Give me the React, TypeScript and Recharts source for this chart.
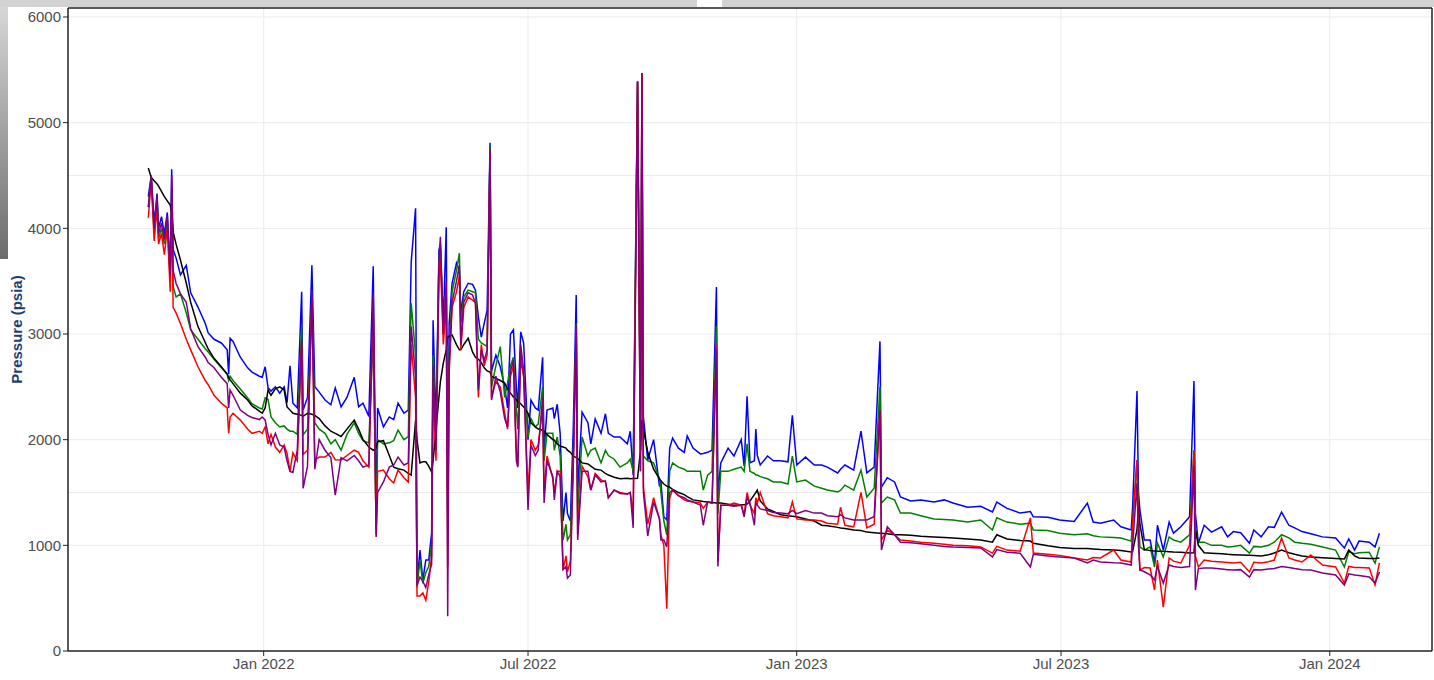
import { LineChart, Line, XAxis, YAxis, CartesianGrid, Label, ReferenceLine } from "recharts";

const dates = [
  "2021-10-14","2021-10-16","2021-10-18","2021-10-20","2021-10-21","2021-10-23","2021-10-25","2021-10-27","2021-10-29","2021-10-30",
  "2021-10-31","2021-11-02","2021-11-05","2021-11-09","2021-11-12","2021-11-17","2021-11-22","2021-11-24","2021-11-28","2021-12-03",
  "2021-12-07","2021-12-08","2021-12-09","2021-12-11","2021-12-16","2021-12-21","2021-12-24","2021-12-29","2021-12-31","2022-01-02",
  "2022-01-04","2022-01-06","2022-01-09","2022-01-12","2022-01-15","2022-01-17","2022-01-19","2022-01-21","2022-01-24","2022-01-27",
  "2022-01-28","2022-01-31","2022-02-03","2022-02-05","2022-02-08","2022-02-12","2022-02-16","2022-02-19","2022-02-23","2022-02-27",
  "2022-03-04","2022-03-07","2022-03-10","2022-03-14","2022-03-17","2022-03-19","2022-03-20","2022-03-24","2022-03-28","2022-03-31",
  "2022-04-03","2022-04-07","2022-04-10","2022-04-12","2022-04-15","2022-04-16","2022-04-18","2022-04-20","2022-04-22","2022-04-24",
  "2022-04-26","2022-04-27","2022-04-29","2022-05-01","2022-05-02","2022-05-04","2022-05-06","2022-05-07","2022-05-08","2022-05-10",
  "2022-05-13","2022-05-15","2022-05-16","2022-05-18","2022-05-21","2022-05-24","2022-05-26","2022-05-28","2022-05-30","2022-06-01",
  "2022-06-03","2022-06-05","2022-06-06","2022-06-09","2022-06-12","2022-06-15","2022-06-17","2022-06-19","2022-06-21","2022-06-23",
  "2022-06-24","2022-06-26","2022-06-28","2022-07-01","2022-07-03","2022-07-06","2022-07-08","2022-07-11","2022-07-12","2022-07-14",
  "2022-07-18","2022-07-19","2022-07-21","2022-07-23","2022-07-25","2022-07-27","2022-07-28","2022-07-30","2022-08-01","2022-08-03",
  "2022-08-04","2022-08-07","2022-08-11","2022-08-13","2022-08-16","2022-08-20","2022-08-23","2022-08-25","2022-08-29","2022-09-02",
  "2022-09-07","2022-09-09","2022-09-11","2022-09-14","2022-09-16","2022-09-17","2022-09-18","2022-09-21","2022-09-25","2022-09-29",
  "2022-09-30","2022-10-02","2022-10-04","2022-10-06","2022-10-08","2022-10-12","2022-10-16","2022-10-18","2022-10-22","2022-10-27",
  "2022-10-29","2022-11-01","2022-11-04","2022-11-07","2022-11-08","2022-11-10","2022-11-15","2022-11-19","2022-11-24","2022-11-26",
  "2022-11-28","2022-11-30","2022-12-03","2022-12-04","2022-12-05","2022-12-07","2022-12-12","2022-12-16","2022-12-21","2022-12-26",
  "2022-12-29","2023-01-01","2023-01-07","2023-01-13","2023-01-18","2023-01-22","2023-01-29","2023-01-31","2023-02-03","2023-02-09",
  "2023-02-14","2023-02-18","2023-02-23","2023-02-27","2023-02-28","2023-03-04","2023-03-09","2023-03-13","2023-03-20","2023-03-27",
  "2023-04-05","2023-04-12","2023-04-18","2023-04-28","2023-05-07","2023-05-15","2023-05-18","2023-05-25","2023-06-03","2023-06-10",
  "2023-06-12","2023-06-22","2023-06-30","2023-07-10","2023-07-19","2023-07-23","2023-07-28","2023-08-06","2023-08-11","2023-08-18",
  "2023-08-19","2023-08-22","2023-08-23","2023-08-24","2023-08-27","2023-08-31","2023-09-03","2023-09-05","2023-09-09","2023-09-13",
  "2023-09-16","2023-09-21","2023-09-27","2023-09-30","2023-10-01","2023-10-03","2023-10-07","2023-10-12","2023-10-19","2023-10-23",
  "2023-10-27","2023-11-01","2023-11-07","2023-11-10","2023-11-15","2023-11-20","2023-11-24","2023-11-29","2023-12-04","2023-12-08",
  "2023-12-13","2023-12-19","2023-12-27","2024-01-05","2024-01-11","2024-01-14","2024-01-18","2024-01-21","2024-01-28","2024-02-01",
  "2024-02-04",
];

const blue = [
  4300,4500,4050,4330,4000,4110,3950,4150,3600,4560,
  3800,3720,3560,3650,3390,3255,3100,3010,2950,2915,
  2850,2620,2960,2930,2780,2680,2640,2600,2590,2690,
  2490,2460,2500,2440,2500,2350,2700,2345,2300,3400,
  2280,2400,3650,2500,2450,2375,2330,2490,2310,2400,
  2590,2310,2345,2220,3640,1270,2300,2120,2215,2190,
  2345,2250,2280,3680,4190,640,955,670,860,860,
  1115,3130,2120,3795,3850,3100,4010,1500,3100,3480,
  3670,3600,3200,3400,3480,3470,3415,3160,2970,3100,
  3225,4810,2650,2800,2690,2500,2300,3000,3040,2500,
  2300,3020,2915,2000,2375,2300,2280,2780,1900,2280,
  2300,2200,2335,2060,1230,1500,1300,1230,2120,3370,
  1500,2260,2160,1960,2195,2060,2245,2060,2025,2025,
  1960,2080,1665,5390,2000,5470,2215,1807,2000,1560,
  1600,1270,1240,1920,2015,1920,1880,2035,1920,1865,
  1870,1880,1900,3445,1500,1780,1920,1845,2000,1750,
  2410,1780,1800,2100,1850,1760,1845,1800,1800,1790,
  2230,1760,1835,1760,1760,1740,1685,1720,1760,1712,
  2080,1685,1740,2930,1550,1640,1600,1457,1420,1430,
  1410,1430,1400,1360,1370,1315,1410,1350,1305,1320,
  1270,1265,1240,1225,1400,1220,1210,1240,1175,1145,
  1360,2460,1500,1334,1050,1050,830,1190,955,1220,
  1115,1175,1270,2555,1300,1020,1190,1125,1175,1080,
  1130,1120,1020,1145,1080,1175,1170,1315,1190,1165,
  1130,1110,1080,1070,975,1060,955,1040,1030,985,
  1115,
];

const green = [
  4200,4480,3950,4250,3900,4000,3850,4050,3500,4300,
  3450,3350,3380,3200,3040,2950,2860,2830,2760,2680,
  2620,2560,2600,2560,2480,2395,2340,2300,2290,2395,
  2380,2215,2160,2120,2130,2100,2080,2080,2050,3070,
  2045,2100,3300,2160,2100,2060,1960,2000,1900,2050,
  2160,2060,1990,1970,3000,1150,2000,1960,1970,1990,
  2090,2000,2030,3290,2800,600,860,640,740,800,
  1000,2800,2000,3700,3800,3000,3400,1200,2800,3400,
  3600,3765,3100,3350,3415,3400,3390,2950,2915,2900,
  2880,4780,2500,2700,2880,2400,2535,2700,2780,2300,
  2100,2750,2600,2025,2200,2120,2150,2500,1800,2060,
  2060,1900,2025,1845,1050,1200,1050,1100,1815,3100,
  1300,2025,1845,1900,1920,1780,1900,1850,1815,1740,
  1780,1815,1700,5390,1900,5470,1845,1800,1780,1630,
  1500,1230,1100,1700,1780,1740,1720,1700,1700,1700,
  1523,1665,1700,3075,1300,1700,1700,1720,1740,1700,
  1960,1700,1680,1665,1665,1650,1630,1600,1600,1580,
  1845,1600,1618,1560,1540,1523,1505,1520,1570,1523,
  1712,1457,1540,2500,1400,1457,1430,1305,1305,1280,
  1250,1245,1240,1220,1240,1145,1260,1220,1200,1210,
  1145,1140,1115,1100,1110,1090,1080,1075,1070,1040,
  1200,1807,1300,985,955,985,795,1020,890,1080,
  1050,1030,1100,1900,1150,1030,1030,1000,1000,985,
  990,1000,927,990,985,1000,1030,1100,1070,1030,
  1020,1010,985,955,795,940,920,930,935,830,
  985,
];

const black = [
  4570,4480,4450,4420,4400,4350,4300,4260,4220,4150,
  3965,3850,3700,3480,3300,3070,2920,2860,2770,2690,
  2620,2590,2565,2530,2440,2375,2320,2270,2250,2300,
  2470,2420,2480,2500,2470,2310,2280,2250,2240,2230,
  2220,2250,2240,2230,2200,2130,2080,2060,2030,2100,
  2185,2100,2000,1930,1900,1920,1980,1990,1850,1740,
  1725,1712,1680,1665,2185,2000,1780,1790,1790,1750,
  1695,1800,2100,2400,2550,2725,2850,2970,2980,2990,
  2900,2850,2850,2900,2960,2830,2780,2760,2730,2680,
  2650,2640,2600,2580,2560,2535,2480,2440,2405,2380,
  2360,2340,2310,2250,2160,2120,2100,2090,2080,2050,
  2000,1995,1960,1940,1930,1920,1900,1880,1845,1830,
  1820,1780,1770,1750,1720,1712,1680,1665,1645,1630,
  1635,1630,1632,1635,1900,2185,2100,1880,1720,1630,
  1610,1580,1560,1550,1530,1500,1480,1460,1430,1420,
  1415,1410,1405,1400,1400,1400,1390,1380,1385,1385,
  1390,1420,1480,1500,1523,1420,1345,1320,1290,1280,
  1275,1270,1250,1230,1190,1185,1170,1165,1160,1145,
  1140,1125,1120,1115,1115,1110,1100,1100,1095,1085,
  1080,1075,1070,1060,1050,1030,1100,1060,1045,1040,
  1020,995,980,970,970,965,960,955,950,937,
  940,1150,1360,1200,960,950,946,945,943,940,
  937,935,927,930,1145,1000,930,925,920,915,
  912,908,905,903,899,910,927,955,930,915,
  900,890,882,875,870,955,900,880,875,875,
  880,
];

const red = [
  4100,4450,3880,4200,3850,3950,3750,4000,3400,4200,
  3250,3200,3100,2950,2850,2690,2560,2520,2420,2345,
  2300,2060,2215,2250,2185,2100,2060,2080,2060,2120,
  1960,2050,1930,1880,1950,1870,1700,1875,1800,2900,
  1860,1900,3350,1807,1835,1835,1880,1810,1807,1850,
  1900,1880,1800,1740,3200,1100,1700,1712,1630,1590,
  1712,1640,1600,2900,2400,520,520,550,480,650,
  900,2500,1800,3500,3700,2900,3300,800,2630,3250,
  3400,3550,2850,3250,3350,3320,3300,2400,2900,2700,
  2800,4750,2400,2550,2500,2250,2100,2600,2700,1900,
  1750,2850,2600,1500,2000,1900,1950,2300,1500,1845,
  1630,1500,1700,1700,770,900,750,850,1780,3000,
  1100,1750,1650,1523,1680,1620,1600,1450,1523,1500,
  1485,1500,1300,5390,1700,5470,1550,1200,1450,1250,
  1100,1000,400,1450,1523,1470,1430,1420,1410,1400,
  1350,1410,1400,2900,850,1380,1380,1400,1380,1290,
  1500,1380,1300,1450,1400,1500,1300,1280,1270,1260,
  1410,1250,1240,1240,1230,1210,1200,1360,1190,1175,
  1500,1165,1200,2280,1050,1145,1100,1050,1040,1030,
  1020,1010,1000,995,985,927,990,955,945,1260,
  927,915,905,880,861,885,880,955,861,842,
  1220,1807,1100,766,790,785,577,861,416,880,
  850,833,1000,1900,900,795,861,850,842,838,
  833,840,748,840,833,845,861,1070,880,861,
  842,908,814,795,643,800,790,790,785,625,
  833,
];

const purple = [
  4200,4500,4000,4300,3950,4050,3900,4120,3550,4500,
  3600,3480,3380,3300,3050,2880,2780,2730,2680,2590,
  2530,2300,2470,2420,2280,2230,2210,2190,2215,2185,
  2050,1950,2060,1950,1930,1800,1700,1690,1900,2950,
  1540,1750,3415,1720,2000,1900,1830,1475,1830,1800,
  1850,1800,1740,1760,3390,1080,1500,1600,1740,1760,
  1835,1760,1780,3070,2600,620,700,660,600,720,
  820,2700,1900,3700,3920,3000,3500,330,2690,3300,
  3500,3650,2900,3300,3390,3370,3290,2470,2850,2750,
  2850,4750,2375,2600,2450,2200,2120,2650,2750,1800,
  1740,2900,2650,1334,1950,1850,1900,2400,1400,1800,
  1650,1430,1700,1650,770,800,690,720,1780,3085,
  1050,1700,1700,1523,1665,1600,1610,1450,1523,1490,
  1485,1500,1165,5390,1700,5470,1500,1090,1410,1250,
  1050,1050,985,1500,1523,1470,1450,1430,1410,1380,
  1190,1410,1400,2860,800,1380,1380,1370,1380,1270,
  1450,1400,1190,1400,1380,1345,1330,1310,1305,1300,
  1330,1300,1330,1305,1305,1280,1270,1290,1260,1240,
  1240,1240,1270,2280,955,1175,1100,1030,1025,1015,
  1000,990,985,980,975,890,960,935,925,795,
  915,900,890,880,833,860,842,835,833,814,
  1000,1590,1000,766,750,720,672,800,643,814,
  800,790,800,1750,577,780,785,785,775,770,
  766,770,700,770,766,775,780,800,790,780,
  770,766,738,720,625,730,720,715,700,643,
  748,
];

const xTickDates = ["2022-01-01", "2022-07-01", "2023-01-01", "2023-07-01", "2024-01-01"];
const yTicks = [0, 1000, 2000, 3000, 4000, 5000, 6000];
const gridValues = [1000, 1500, 2000, 3000, 4000, 4500, 5000, 6000];
const MONTHS = ["Jan", "Feb", "Mar", "Apr", "May", "Jun", "Jul", "Aug", "Sep", "Oct", "Nov", "Dec"];

const toTime = (d: string) => Date.parse(d + "T00:00:00Z");

const data = dates.map((d, i) => ({
  t: toTime(d),
  blue: blue[i],
  green: green[i],
  black: black[i],
  red: red[i],
  purple: purple[i],
}));

const xDomain = [toTime("2021-08-20"), toTime("2024-03-11")];
const yMax = 6085;
const FONT = "'Liberation Sans', Arial, sans-serif";

const fmtDate = (t: number) => {
  const d = new Date(t);
  return `${MONTHS[d.getUTCMonth()]} ${d.getUTCFullYear()}`;
};

const YTitle = ({ viewBox }: any) => {
  const cy = viewBox.y + viewBox.height / 2;
  return (
    <text
      x={16}
      y={cy}
      transform={`rotate(-90 16 ${cy})`}
      textAnchor="middle"
      dominantBaseline="central"
      fill="#1d3f6e"
      fontWeight="bold"
      fontSize={15}
      fontFamily={FONT}
    >
      Pressure (psia)
    </text>
  );
};

const series = [
  { key: "blue", color: "#0000ff" },
  { key: "green", color: "#008000" },
  { key: "black", color: "#000000" },
  { key: "red", color: "#ff0000" },
  { key: "purple", color: "#800080" },
];

export default function App() {
  return (
    <div style={{ position: "absolute", left: 0, top: 0, width: 1434, height: 680, background: "#fff" }}>
      <LineChart
        width={1434}
        height={680}
        data={data}
        margin={{ top: 8, right: 2, bottom: 0, left: 0 }}
      >
        <CartesianGrid
          stroke="#ebebeb"
          horizontalValues={gridValues}
          verticalValues={xTickDates.map(toTime)}
        />
        <XAxis
          dataKey="t"
          type="number"
          scale="time"
          domain={xDomain}
          ticks={xTickDates.map(toTime)}
          tickFormatter={fmtDate}
          height={29}
          tickSize={5}
          axisLine={{ stroke: "#222", strokeWidth: 1.5 }}
          tickLine={{ stroke: "#222" }}
          tick={{ fill: "#4d4d4d", fontSize: 15, fontFamily: FONT }}
          allowDataOverflow
        />
        <YAxis
          type="number"
          domain={[0, yMax]}
          ticks={yTicks}
          width={68}
          tickSize={5}
          axisLine={{ stroke: "#222", strokeWidth: 1.5 }}
          tickLine={{ stroke: "#222" }}
          tick={{ fill: "#4d4d4d", fontSize: 15, fontFamily: FONT }}
          allowDataOverflow
        >
          <Label content={YTitle} />
        </YAxis>
        <ReferenceLine y={yMax} stroke="#222" strokeWidth={1.5} />
        <ReferenceLine x={xDomain[1]} stroke="#222" strokeWidth={1.5} />
        {series.map((s) => (
          <Line
            key={s.key}
            dataKey={s.key}
            stroke={s.color}
            strokeWidth={1.5}
            dot={false}
            activeDot={false}
            type="linear"
            isAnimationActive={false}
          />
        ))}
      </LineChart>
      <div style={{ position: "absolute", left: 0, top: 0, width: 697, height: 7, background: "#d2d2d2" }} />
      <div style={{ position: "absolute", left: 722, top: 0, width: 712, height: 7, background: "#d2d2d2" }} />
      <div
        style={{
          position: "absolute",
          left: 0,
          top: 7,
          width: 8,
          height: 252,
          background: "linear-gradient(#d6d6d6, #6c6c6c)",
        }}
      />
    </div>
  );
}
